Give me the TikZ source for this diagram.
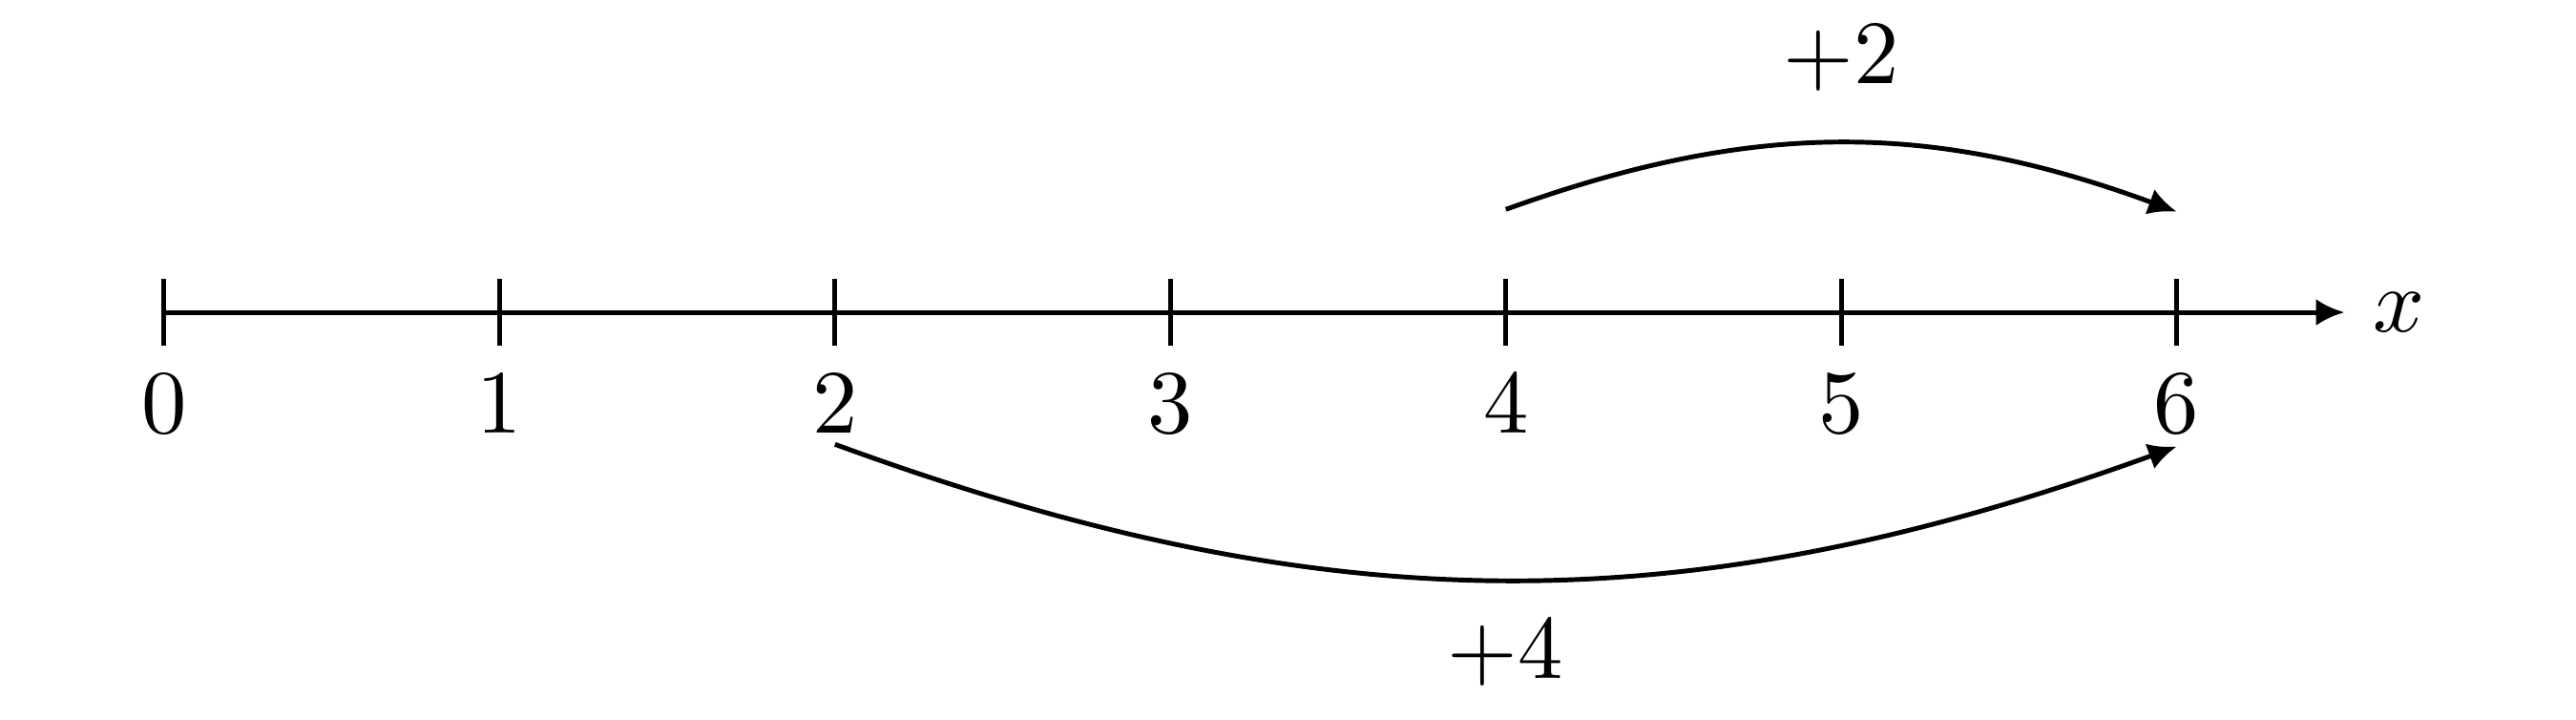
\RequirePackage{fix-cm}
\documentclass[tikz,border=0pt]{standalone}
\usetikzlibrary{arrows.meta}
\begin{document}
\begin{tikzpicture}[x=1.5cm,y=1cm,
  every node/.style={font=\fontsize{11.5}{14}\selectfont},
  axis/.style={line width=0.6pt,-{Latex[length=3.6pt,width=3.4pt]}},
  tick/.style={line width=0.6pt},
  jump/.style={line width=0.6pt,-{Latex[length=3.6pt,width=3.4pt]}}]
\useasboundingbox (-0.734cm,-1.822) rectangle (10.786cm,1.396);
\coordinate (o) at (0,0);
\coordinate (e) at (6.5,0);
\draw[axis] (o) -- (e) node[right] (xl) {$x$};
\draw[tick] (0,0.15) -- (0,-0.15) node[below] (l0) {$0$};
\draw[tick] (1,0.15) -- (1,-0.15) node[below] (l1) {$1$};
\draw[tick] (2,0.15) -- (2,-0.15) node[below] (l2) {$2$};
\draw[tick] (3,0.15) -- (3,-0.15) node[below] (l3) {$3$};
\draw[tick] (4,0.15) -- (4,-0.15) node[below] (l4) {$4$};
\draw[tick] (5,0.15) -- (5,-0.15) node[below] (l5) {$5$};
\draw[tick] (6,0.15) -- (6,-0.15) node[below] (l6) {$6$};
% jumps
\coordinate (u4) at (4,0.46);
\coordinate (u6) at (6,0.45);
\coordinate (d2) at (2,-0.59);
\coordinate (d6) at (6,-0.6);
\draw[jump] (u4) to[bend left=20] node[above=3pt] (p2) {$+2$} (u6);
\draw[jump] (d2) to[bend right=20] node[below=1.5pt] (p4) {$+4$} (d6);
\end{tikzpicture}
\end{document}
